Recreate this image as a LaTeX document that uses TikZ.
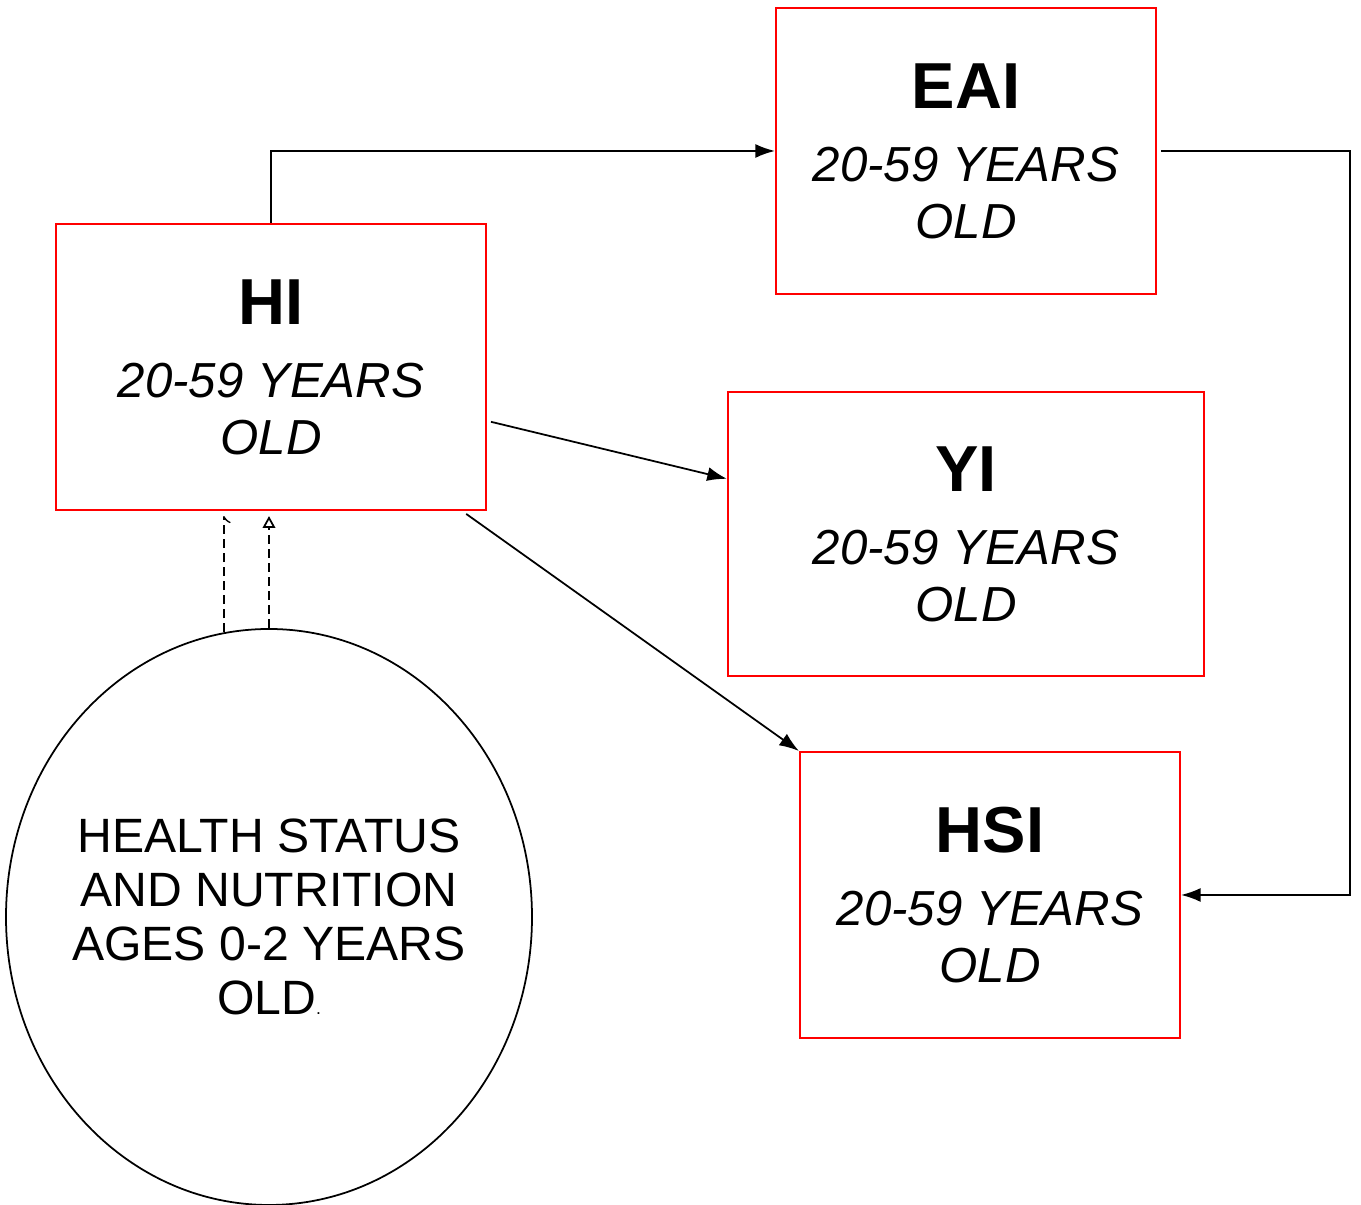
\documentclass[tikz,border=0pt]{standalone}
\usepackage{fontspec}
\setmainfont{Liberation Sans}
\usepackage{tikz}
\usetikzlibrary{arrows,arrows.meta}
\usetikzlibrary{calc}
\usetikzlibrary{shapes.geometric}

\newcommand{\boxtitle}[1]{{\fontsize{18.5}{20}\selectfont\upshape\bfseries #1}}

\begin{document}
\begin{tikzpicture}[
    agebox/.style={draw=red, line width=0.6pt, minimum height=2.86cm, inner sep=0pt,
        align=center, font=\fontsize{14}{16.2}\selectfont\itshape},
    link/.style={line width=0.5pt, -{Latex[length=5.6pt,width=4pt]}},
    dashlink/.style={line width=0.5pt, dash pattern=on 2.6pt off 1.4pt}]
            \useasboundingbox (0,0) rectangle (13.61,-12.05);

            % Boxes
            \node[agebox, minimum width=4.30cm] (hi) at (2.71,-3.67)
                {\boxtitle{HI}\\[4.6pt]20-59 YEARS\\OLD};
            \node[agebox, minimum width=3.80cm] (eai) at (9.66,-1.51)
                {\boxtitle{EAI}\\[4.6pt]20-59 YEARS\\OLD};
            \node[agebox, minimum width=4.76cm, minimum height=2.84cm] (yi) at (9.66,-5.34)
                {\boxtitle{YI}\\[4.6pt]20-59 YEARS\\OLD};
            \node[agebox, minimum width=3.80cm] (hsi) at (9.90,-8.95)
                {\boxtitle{HSI}\\[4.6pt]20-59 YEARS\\OLD};

            % Early childhood
            \node[draw, ellipse, line width=0.5pt, minimum width=5.26cm, minimum height=5.76cm,
                inner sep=0pt,
                label={[align=center, font=\fontsize{13.7}{15.4}\selectfont]center:HEALTH STATUS\\AND NUTRITION\\AGES 0-2 YEARS\\OLD{\tiny.}}]
                (early) at (2.69,-9.17) {};

            % Links between boxes
            \coordinate (rturn) at (13.50,-1.50);
            \draw[link] (hi.north) |- (eai.west);
            \draw[link, shorten <=0.4mm] (eai.east) -- (eai.east -| rturn) |- (hsi.east);
            \draw[link, shorten <=0.4mm] (hi.-14) -- (yi.167);
            \draw[link, shorten <=0.5mm] (hi.-37) -- (hsi.143);

            % Early childhood to HI
            \draw[dashlink, -right to, shorten >=0.5mm] (early.99) -- (early.99 |- hi.south);
            \draw[dashlink, -{Triangle[open, length=3.4pt, width=3.6pt]}, shorten >=0.5mm]
                (early.north) -- (early.north |- hi.south);
        \end{tikzpicture}
\end{document}
